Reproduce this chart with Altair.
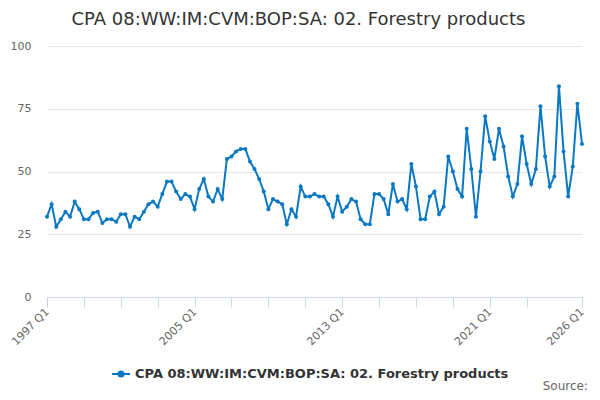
import altair as alt
import pandas as pd

series_name = "CPA 08:WW:IM:CVM:BOP:SA: 02. Forestry products"
start_year = 1997
values = [
    32, 37, 28, 31, 34, 32, 38, 35, 31, 31, 33.5, 34, 29.5, 31, 31, 30,
    33, 33, 28, 32, 31, 34, 37, 38, 36, 41, 46, 46, 42, 39, 41, 40,
    35, 43, 47, 40, 38, 43, 39, 55, 56, 58, 59, 59, 54, 51, 47, 42,
    35, 39, 38, 37, 29, 35, 32, 44, 40, 40, 41, 40, 40, 37, 32, 40,
    34, 36, 39, 38, 31, 29, 29, 41, 41, 39, 33, 45, 38, 39, 35, 53,
    44, 31, 31, 40, 42, 33, 36, 56, 50, 43, 40, 67, 51, 32, 50, 72,
    62, 55, 67, 60, 48, 40, 45, 64, 53, 45, 51, 76, 56, 44, 48, 84,
    58, 40, 52, 77, 61,
]
quarters = [f"{start_year + i // 4} Q{i % 4 + 1}" for i in range(len(values))]
y_ticks = [0, 25, 50, 75, 100]
x_tick_idx = list(range(0, 105, 8)) + [len(values) - 1]
x_label_idx = [0, 32, 64, 96, len(values) - 1]

df = pd.DataFrame({"idx": list(range(len(values))), "quarter": quarters,
                   "value": values, "series": series_name})

color = "#0a78c2"
W, H = 535, 251

label_test = " || ".join(f"datum.value == {v}" for v in x_label_idx)
label_expr = (f"({label_test}) ? (floor(datum.value / 4) + {start_year}) + ' Q' + "
              f"(datum.value % 4 + 1) : ''")

line = alt.Chart(df).mark_line(
    strokeWidth=2,
    point=alt.OverlayMarkDef(filled=True, size=16, color=color),
).encode(
    x=alt.X("idx:Q", scale=alt.Scale(domain=[0, len(values) - 1], nice=False, zero=False),
            axis=alt.Axis(title=None, values=x_tick_idx, labelExpr=label_expr,
                          labelAngle=-45, labelAlign="right", labelBaseline="middle",
                          labelPadding=3, tickSize=10, tickColor="#ccd6eb",
                          domainColor="#ccd6eb", grid=False, labelColor="#666666",
                          labelFontSize=11, labelFont="DejaVu Sans", labelOverlap=False)),
    y=alt.Y("value:Q", scale=alt.Scale(domain=[0, 100], nice=False),
            axis=alt.Axis(title=None, values=y_ticks, domain=False, ticks=False,
                          gridColor="#e6e6e6", labelColor="#666666", labelFontSize=11,
                          labelFont="DejaVu Sans", labelPadding=16)),
    color=alt.Color("series:N", scale=alt.Scale(range=[color]),
                    legend=alt.Legend(title=None, orient="none", legendX=64, legendY=318,
                                      symbolType="M-1,0L1,0M-0.28,0A0.28,0.28,0,1,1,0.28,0A0.28,0.28,0,1,1,-0.28,0",
                                      symbolSize=324, symbolStrokeWidth=2,
                                      symbolStrokeColor=color, symbolFillColor=color,
                                      labelFontSize=13, labelFontWeight="bold",
                                      labelColor="#333333", labelFont="DejaVu Sans",
                                      labelLimit=0)),
)

source = alt.Chart(pd.DataFrame({"t": ["Source:"]})).mark_text(
    align="right", baseline="alphabetic", fontSize=12, color="#666666", font="DejaVu Sans"
).encode(x=alt.value(W + 6), y=alt.value(H + 93), text="t:N")

chart = alt.layer(line, source).properties(
    width=W, height=H,
    title=alt.TitleParams(series_name, fontSize=18, font="DejaVu Sans", fontWeight="normal",
                          color="#333333", anchor="middle", frame="group", dx=-16, offset=11),
    autosize=alt.AutoSizeParams(type="none"),
    padding={"left": 39, "top": 38, "right": 10, "bottom": 95},
).configure_view(stroke=None)

chart.save("out.html", embed_options={"renderer": "svg", "actions": False})
